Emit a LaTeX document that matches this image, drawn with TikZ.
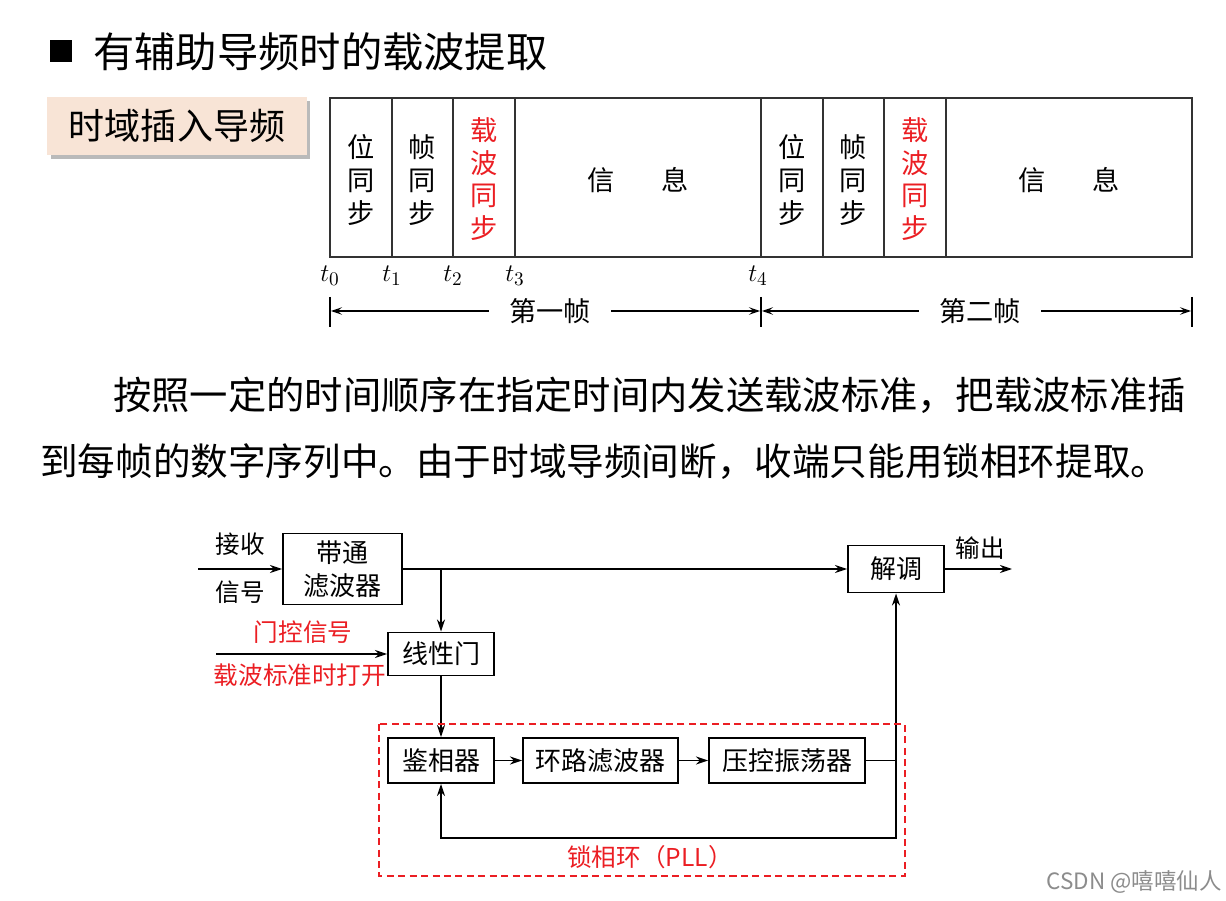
\documentclass[tikz,border=0pt]{standalone}
\usepackage{fontspec}
\setmainfont{Noto Sans CJK SC}
\usetikzlibrary{arrows.meta, positioning, shadows}

\definecolor{peach}{RGB}{248,228,214}
\definecolor{pllred}{RGB}{235,30,35}

\begin{document}
\begin{tikzpicture}[x=0.02cm, y=-0.02cm,
  txt/.style={inner sep=0pt},
  blk/.style={draw, line width=1.1pt, inner sep=0pt, align=center,
    font=\fontsize{14.8}{18.5}\selectfont},
  sig/.style={line width=1pt, -{Stealth[length=2.4mm, width=1.6mm]}},
  dim/.style={line width=0.8pt, -{Stealth[length=2.2mm, width=1.5mm, inset=0.9mm]}},
  cell/.style={inner sep=0pt, align=center, font=\fontsize{15.5}{18.6}\selectfont},
  lab/.style={inner sep=0pt, font=\fontsize{14}{17}\selectfont},
  redlab/.style={lab, text=pllred}]
\useasboundingbox (0,0) rectangle (1226,901);

\def\ytop{98}
\def\ybot{257}

% title
\node[fill, minimum size=0.44cm, inner sep=0pt] (bullet) at (61,51) {};
\node[txt, anchor=west, font=\fontsize{23.5}{28}\selectfont] (title) at (93,52) {有辅助导频时的载波提取};

\node[fill=peach, minimum width=5.2cm, minimum height=1.16cm, inner sep=0pt,
  drop shadow={shadow xshift=2pt, shadow yshift=-2pt, opacity=0.45, fill=black!60},
  font=\fontsize{20.5}{24}\selectfont] (tag) at (177,126) {时域插入导频};

% frame structure
\draw[line width=0.8pt, black!80] (330,\ytop) rectangle (1192,\ybot);
\foreach \x in {392,453,515,761,823,884,946}
  \draw[line width=0.8pt, black!80] (\x,\ytop) -- (\x,\ybot);

\node[cell] (bit1) at (361,180) {位\\同\\步};
\node[cell] (frm1) at (422.5,180) {帧\\同\\步};
\node[cell, text=pllred] (car1) at (484,179) {载\\波\\同\\步};
\node[cell] (inf1) at (638,180) {信\hspace{1.7em}息};
\node[cell] (bit2) at (792,180) {位\\同\\步};
\node[cell] (frm2) at (853.5,180) {帧\\同\\步};
\node[cell, text=pllred] (car2) at (915,179) {载\\波\\同\\步};
\node[cell] (inf2) at (1069,180) {信\hspace{1.7em}息};

\foreach \x/\i in {330/0, 392/1, 453/2, 515/3, 758/4}
  \node[txt, font=\fontsize{15}{18}\selectfont] at (\x,276) {$t_{\i}$};

\foreach \x in {330,761,1192}
  \draw[line width=0.8pt] (\x,297) -- (\x,327);
\coordinate (a0) at (331,311);
\coordinate (a4l) at (760,311);
\coordinate (a4r) at (762,311);
\coordinate (a8) at (1191,311);
\node[cell, inner xsep=0.4cm] (f1) at (550,311) {第一帧};
\node[cell, inner xsep=0.4cm] (f2) at (980,311) {第二帧};
\draw[dim] (f1) -- (a0);
\draw[dim] (f1) -- (a4l);
\draw[dim] (f2) -- (a4r);
\draw[dim] (f2) -- (a8);

% text
\node[txt, anchor=west, font=\fontsize{21.8}{26}\selectfont] (par1) at (113,395)
  {按照一定的时间顺序在指定时间内发送载波标准，把载波标准插};
\node[txt, anchor=west, font=\fontsize{21.4}{26}\selectfont] (par2) at (40,462)
  {到每帧的数字序列中。由于时域导频间断，收端只能用锁相环提取。};

% block diagram
\node[blk, minimum width=2.38cm, minimum height=1.42cm] (bpf) at (342.5,569) {带通\\滤波器};
\node[blk, minimum width=1.92cm, minimum height=0.94cm] (demod) at (896,569) {解调};
\node[blk, minimum width=2.12cm, minimum height=0.86cm] (gate) at (441,654) {线性门};
\node[blk, minimum width=2.12cm, minimum height=0.9cm] (pd) at (441,760.5) {鉴相器};
\node[blk, minimum width=3.1cm, minimum height=0.9cm] (lf) at (600.5,760.5) {环路滤波器};
\node[blk, minimum width=3.12cm, minimum height=0.9cm] (vco) at (787,760.5) {压控振荡器};

\coordinate (in) at (198,569);
\coordinate (gin) at (216,654);
\coordinate (out) at (1012,569);
\coordinate (fb) at (896,838);

\node[lab] (rx1) at (240,544) {接收};
\node[lab] (rx2) at (240,592) {信号};
\node[lab] (outl) at (980,548) {输出};
\node[redlab] (ctl1) at (303,632) {门控信号};
\node[redlab] (ctl2) at (300,675) {载波标准时打开};

\draw[sig] (in) -- (bpf);
\draw[sig] (bpf) -- (demod);
\draw[sig] (demod) -- (out);
\draw[sig] (bpf.east -| gate.north) -- (gate.north);
\draw[sig] (gin) -- (gate);
\draw[sig] (gate) -- (pd);
\draw[sig] (pd) -- (lf);
\draw[sig] (lf) -- (vco);
\draw[sig] (vco.east) -| (demod.south);
\draw[sig] (vco.east -| fb) -- (fb) -| (pd.south);

% PLL region
\draw[pllred, line width=1pt, dash pattern=on 4pt off 2.5pt] (379,724) rectangle (905,876);
\node[redlab] (pll) at (650,857) {锁相环（PLL）};

\node[txt, anchor=east, text=black!45, font=\fontsize{12.8}{15}\selectfont] (mark) at (1222,882) {CSDN @嘻嘻仙人};
\end{tikzpicture}
\end{document}
